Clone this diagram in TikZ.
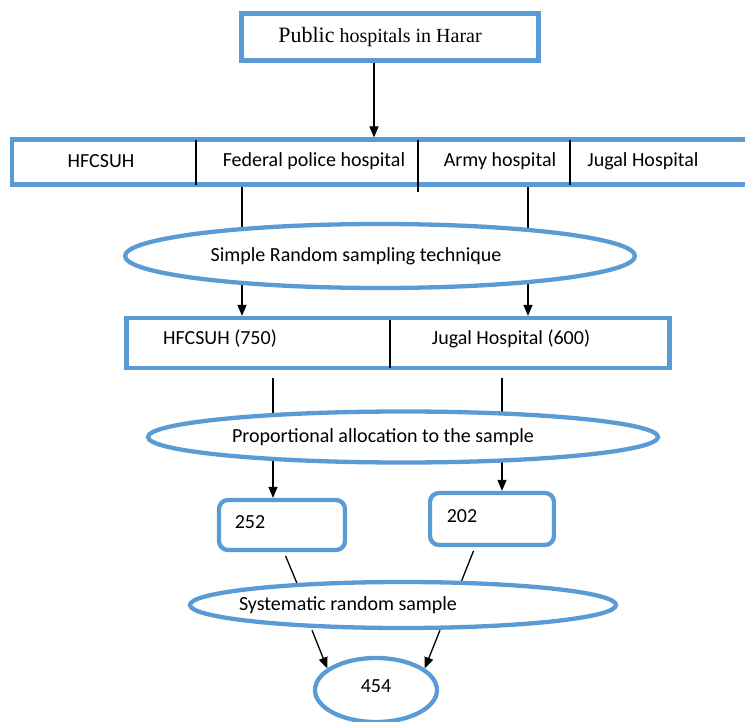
\documentclass[tikz,border=0pt]{standalone}
\usepackage{fontspec}
\setmainfont{Carlito}
\newfontfamily\timesfont{Liberation Serif}
\usetikzlibrary{shapes.geometric,arrows.meta}
\definecolor{boxblue}{RGB}{91,155,213}
\pgfdeclarelayer{bg}
\pgfsetlayers{bg,main}
\begin{document}
\begin{tikzpicture}[x=1pt,y=-1pt,font=\fontsize{20}{23}\selectfont,
	bluebox/.style={draw=boxblue, line width=4.3pt, fill=white, inner sep=0pt},
	blueoval/.style={bluebox, ellipse},
	roundbox/.style={bluebox, rounded corners=9pt},
	link/.style={black, line width=1.3pt},
	arrowlink/.style={link, -{Triangle[length=11pt,width=9pt]}}]
	\useasboundingbox (0,0) rectangle (745,722);
	% Columns of the connectors
	\coordinate (colT) at (374,0);
	\coordinate (colA) at (242,0);
	\coordinate (colB) at (528,0);
	\coordinate (colC) at (273,0);
	\coordinate (colD) at (502,0);
	% Top box
	\node[bluebox, minimum width=297pt, minimum height=47pt,
	label={[font=\timesfont\fontsize{20}{22}\selectfont, xshift=-10pt]center:{\fontsize{22}{22}\selectfont Public} hospitals in Harar}]
	(top) at (390,37) {};
	% The four hospitals
	\node[bluebox, minimum width=750pt, minimum height=45pt] (hosp) at (387,162) {};
	\node (hfc) at (101,161) {HFCSUH};
	\node (fed) at (314,161) {Federal police hospital};
	\node (army) at (500,161) {Army hospital};
	\node (jugal) at (643,161) {Jugal Hospital};
	\draw[link] (196,140) -- (196,185);
	\draw[link] (418,140) -- (418,192);
	\draw[link] (570,140) -- (570,185);
	% Simple random sampling
	\node[blueoval, minimum width=510pt, minimum height=64pt,
	label={[xshift=-24pt]center:Simple Random sampling technique}] (srs) at (380,256) {};
	% Selected hospitals
	\node[bluebox, minimum width=543pt, minimum height=50pt] (cnt) at (398,343) {};
	\node (cntA) at (220,339) {HFCSUH (750)};
	\node (cntB) at (511,339) {Jugal Hospital (600)};
	\draw[link] (390,320) -- (390,368);
	% Proportional allocation
	\node[blueoval, minimum width=510pt, minimum height=51pt,
	label={[xshift=-20pt]center:Proportional allocation to the sample}] (alloc) at (403,437) {};
	% Sample sizes
	\node[roundbox, minimum width=126pt, minimum height=50pt,
	label={[xshift=-32pt,yshift=3pt]center:252}] (nA) at (282,525) {};
	\node[roundbox, minimum width=124pt, minimum height=52pt,
	label={[xshift=-30pt,yshift=3pt]center:202}] (nB) at (492,519) {};
	% Systematic random sample
	\node[blueoval, minimum width=426pt, minimum height=46pt,
	label={[xshift=-55pt]center:Systematic random sample}] (sys) at (403,605) {};
	% Total
	\node[blueoval, minimum width=122pt, minimum height=64pt,
	label={[yshift=4pt]center:454}] (total) at (376,690) {};
	% Connectors
	\begin{pgfonlayer}{bg}
		\draw[arrowlink] (colT |- top.south) -- (colT |- hosp.north);
		\draw[link] (colA |- hosp.south) -- (colA |- srs.center);
		\draw[link] (colB |- hosp.south) -- (colB |- srs.center);
		\draw[arrowlink] (colA |- srs.center) -- (colA |- cnt.north);
		\draw[arrowlink] (colB |- srs.center) -- (colB |- cnt.north);
		\draw[link, shorten <=8pt] (colC |- cnt.south) -- (colC |- alloc.center);
		\draw[link, shorten <=8pt] (colD |- cnt.south) -- (colD |- alloc.center);
		\draw[arrowlink] (colC |- alloc.center) -- (colC |- nA.north);
		\draw[arrowlink] (colD |- alloc.center) -- (colD |- nB.north);
		\draw[link, shorten <=4pt] ([xshift=2pt]nA.south) -- ([xshift=-97pt]sys.center);
		\draw[link, shorten <=4pt] ([xshift=-17pt]nB.south) -- ([xshift=49pt]sys.center);
		\draw[arrowlink] ([xshift=-91pt]sys.south) -- (total.156);
		\draw[arrowlink] ([xshift=37pt]sys.south) -- (total.24);
	\end{pgfonlayer}
\end{tikzpicture}
\end{document}
